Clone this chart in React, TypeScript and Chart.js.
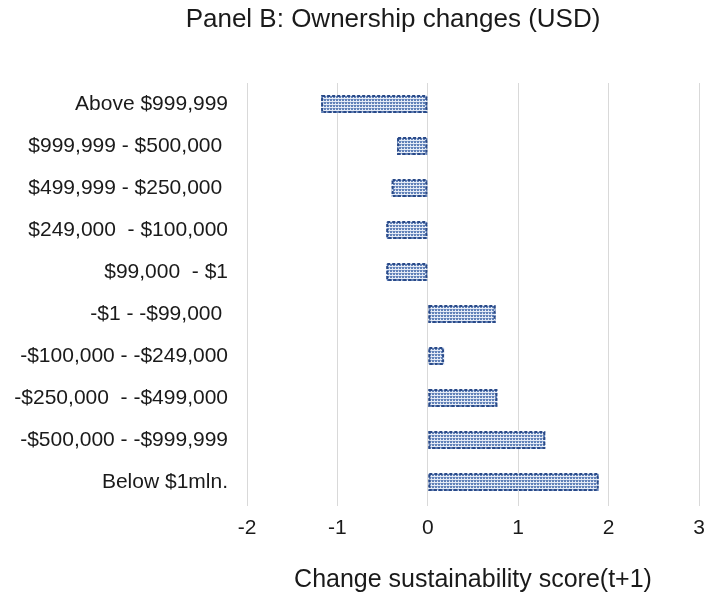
import React, { useEffect, useRef } from "react";
import { Chart, registerables } from "chart.js";

Chart.register(...registerables);

const categories = [
  "Above $999,999",
  "$999,999 - $500,000 ",
  "$499,999 - $250,000 ",
  "$249,000  - $100,000",
  "$99,000  - $1",
  "-$1 - -$99,000 ",
  "-$100,000 - -$249,000",
  "-$250,000  - -$499,000",
  "-$500,000 - -$999,999",
  "Below $1mln.",
];
const values = [-1.18, -0.34, -0.4, -0.46, -0.46, 0.75, 0.18, 0.77, 1.3, 1.89];
const xTicks = [-2, -1, 0, 1, 2, 3];
const titleText = "Panel B: Ownership changes (USD)";
const xTitle = "Change sustainability score(t+1)";

const FONT = "'Liberation Sans', Arial, sans-serif";

function makePattern(): CanvasPattern | string {
  const c = document.createElement("canvas");
  c.width = 3;
  c.height = 3;
  const ctx = c.getContext("2d");
  if (!ctx) return "#8fa7d0";
  ctx.fillStyle = "#e6ecf6";
  ctx.fillRect(0, 0, 3, 3);
  ctx.fillStyle = "#6282b8";
  ctx.fillRect(0, 0, 2, 2);
  ctx.fillStyle = "#a2b6da";
  ctx.fillRect(2, 0, 1, 1);
  const p = ctx.createPattern(c, "repeat");
  return p || "#8fa7d0";
}

const titlePlugin = {
  id: "panelTitle",
  afterDraw(chart: any) {
    const ctx = chart.ctx;
    ctx.save();
    ctx.fillStyle = "#1a1a1a";
    ctx.font = `26px ${FONT}`;
    ctx.textAlign = "center";
    ctx.textBaseline = "middle";
    ctx.fillText(titleText, 393, 20);
    ctx.restore();
  },
};

const dashedBorderPlugin = {
  id: "dashedBorder",
  afterDatasetsDraw(chart: any) {
    const ctx = chart.ctx;
    const meta = chart.getDatasetMeta(0);
    ctx.save();
    ctx.strokeStyle = "#2a4a88";
    ctx.lineWidth = 2;
    ctx.setLineDash([3, 2]);
    meta.data.forEach((el: any) => {
      const left = Math.min(el.x, el.base);
      const w = Math.abs(el.x - el.base);
      const top = el.y - el.height / 2;
      ctx.strokeRect(left + 1, top + 1, Math.max(w - 2, 0), el.height - 2);
    });
    ctx.restore();
  },
};

export default function App() {
  const ref = useRef<HTMLCanvasElement | null>(null);
  useEffect(() => {
    if (!ref.current) return;
    const chart = new Chart(ref.current, {
      type: "bar",
      data: {
        labels: categories,
        datasets: [
          {
            data: values,
            backgroundColor: makePattern() as any,
            borderWidth: 0,
            barPercentage: 0.85,
            categoryPercentage: 0.5,
          },
        ],
      },
      plugins: [titlePlugin, dashedBorderPlugin],
      options: {
        indexAxis: "y",
        animation: false,
        responsive: false,
        maintainAspectRatio: false,
        layout: { padding: { top: 83, right: 7, left: 0, bottom: 0 } },
        plugins: {
          legend: { display: false },
          tooltip: { enabled: false },
          title: { display: false },
        },
        scales: {
          x: {
            type: "linear",
            min: -2,
            max: 3,
            afterBuildTicks(scale: any) {
              scale.ticks = xTicks.map((v) => ({ value: v }));
            },
            afterFit(scale: any) {
              scale.height = 98;
              scale.paddingLeft = 0;
              scale.paddingRight = 0;
            },
            grid: {
              color: "#d9d9d9",
              lineWidth: 1,
              drawTicks: true,
              tickLength: 3,
            },
            border: { display: false },
            ticks: {
              color: "#1a1a1a",
              font: { family: FONT, size: 21 },
              padding: 10,
            },
            title: {
              display: true,
              text: xTitle,
              color: "#1a1a1a",
              font: { family: FONT, size: 25 },
              padding: { top: 0, bottom: 6 },
            },
          },
          y: {
            afterFit(scale: any) {
              scale.width = 247;
              scale.paddingTop = 0;
              scale.paddingBottom = 0;
            },
            grid: { display: false, drawTicks: false },
            border: { display: false },
            ticks: {
              color: "#1a1a1a",
              font: { family: FONT, size: 21 },
              padding: 19,
            },
          },
        },
      },
    });
    return () => chart.destroy();
  }, []);
  return (
    <div style={{ position: "absolute", left: 0, top: 0, width: 706, height: 601, background: "#fff" }}>
      <canvas ref={ref} width={706} height={601} />
    </div>
  );
}
